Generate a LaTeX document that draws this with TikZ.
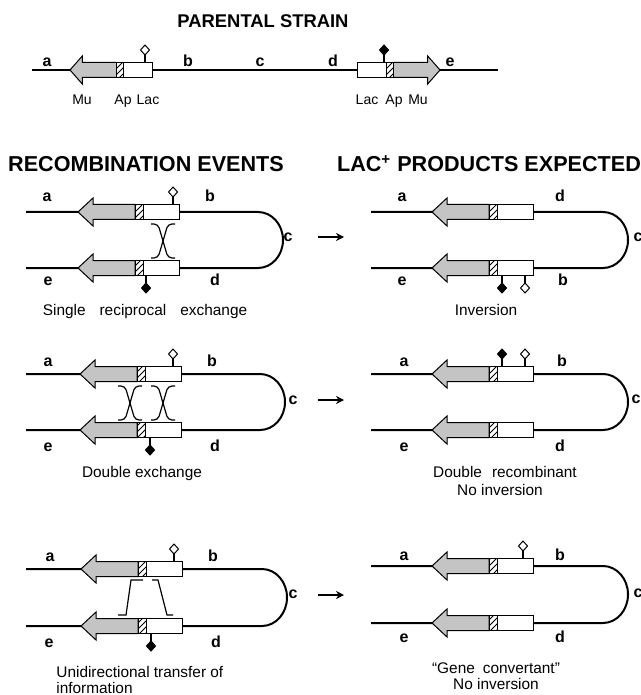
\documentclass[tikz,border=0pt]{standalone}
\usepackage{fontspec}
\setmainfont{Liberation Sans}
\usetikzlibrary{patterns,arrows.meta}
\definecolor{MuGrey}{HTML}{C4C4C4}

% Mu-Ap-Lac cassette, tip at (#1,#2), pointing left (xscale #3 < 0 points right)
\newcommand{\mucassette}[3]{%
  \begin{scope}[shift={(#1,#2)},xscale=#3]
    \filldraw[fill=MuGrey,line width=0.5pt] (0,0) -- (15,-14) -- (15,-7.5) -- (57,-7.5)
      -- (57,7.5) -- (15,7.5) -- (15,14) -- cycle;
    \filldraw[fill=white,line width=0.5pt] (57,-7.5) rectangle (65,7.5);
    \fill[pattern=north east lines] (57,-7.5) rectangle (65,7.5);
    \draw[line width=0.5pt] (57,-7.5) rectangle (65,7.5);
    \filldraw[fill=white,line width=0.5pt] (65,-7.5) rectangle (101,7.5);
  \end{scope}}
% Lac marker above / below a box edge
\newcommand{\pinup}[3]{%
  \draw[line width=0.7pt] (#1,#2) -- (#1,#2-7.5);
  \filldraw[fill=#3,line width=0.5pt] (#1,#2-7.5) -- (#1+4.5,#2-12.5) -- (#1,#2-17.5)
    -- (#1-4.5,#2-12.5) -- cycle;}
\newcommand{\pindown}[3]{%
  \draw[line width=0.7pt] (#1,#2) -- (#1,#2+7.5);
  \filldraw[fill=#3,line width=0.5pt] (#1,#2+7.5) -- (#1+4.5,#2+12.5) -- (#1,#2+17.5)
    -- (#1-4.5,#2+12.5) -- cycle;}
% crossing strands between the two copies
\newcommand{\crossover}[4]{%
  \draw[line width=0.6pt,rounded corners=2pt] (#1,#3) -- (#1+7,#3) -- (#2-7,#4) -- (#2,#4);
  \draw[line width=0.6pt,rounded corners=2pt] (#2,#3) -- (#2-7,#3) -- (#1+7,#4) -- (#1,#4);}

\begin{document}
\begin{tikzpicture}[x=0.5pt,y=-0.5pt,
  dna/.style={line width=1pt},
  lab/.style={font=\bfseries\fontsize{8}{9}\selectfont,anchor=base,inner sep=0pt},
  gene/.style={font=\fontsize{7}{9}\selectfont,anchor=base,inner sep=0pt},
  capt/.style={font=\fontsize{7.7}{9}\selectfont,anchor=base,inner sep=0pt},
  head/.style={font=\bfseries\fontsize{10.8}{13}\selectfont,anchor=base,inner sep=0pt},
  prodarrow/.style={line width=1.2pt,-{Stealth[length=4pt,width=4pt]}}]
\path[use as bounding box] (0,0) rectangle (641,695);

% parental strain
\node[head,font=\bfseries\fontsize{9.2}{11}\selectfont] (par-title) at (263,28) {PARENTAL STRAIN};
\draw[dna] (32,70) -- (498,70);
\mucassette{70}{70}{0.82}
\mucassette{440}{70}{-0.82}
\pinup{145}{62.5}{white}
\pinup{384}{62.5}{black}
\node[lab] (par-a) at (47,67) {a};
\node[lab] (par-b) at (188,67) {b};
\node[lab] (par-c) at (260,67) {c};
\node[lab] (par-d) at (333,67) {d};
\node[lab] (par-e) at (450,67) {e};
\node[gene] (par-mu1) at (82,105) {Mu};
\node[gene] (par-ap1) at (123,105) {Ap};
\node[gene] (par-lac1) at (148,105) {Lac};
\node[gene] (par-lac2) at (367,105) {Lac};
\node[gene] (par-ap2) at (394,105) {Ap};
\node[gene] (par-mu2) at (418,105) {Mu};

\node[head] (ev-title) at (146,172) {RECOMBINATION EVENTS};
\node[head] (pr-title) at (489,172) {LAC\textsuperscript{+} PRODUCTS EXPECTED};

% single reciprocal exchange
\draw[dna] (26,212) -- (258,212) arc[start angle=-90,end angle=90,x radius=25,y radius=28] -- (26,268);
\mucassette{78}{212}{1}
\mucassette{78}{268}{1}
\pinup{173}{204.5}{white}
\pindown{146}{275.5}{black}
\crossover{151}{175}{224}{258}
\node[lab] (ev1-a) at (47,202) {a};
\node[lab] (ev1-b) at (210,202) {b};
\node[lab] (ev1-c) at (288,242) {c};
\node[lab] (ev1-e) at (48,285) {e};
\node[lab] (ev1-d) at (215,285) {d};
\node[capt] (ev1-cap) at (145,315) {Single\hspace{7pt}reciprocal\hspace{7pt}exchange};

\draw[dna] (371,212) -- (603,212) arc[start angle=-90,end angle=90,x radius=25,y radius=28] -- (371,268);
\mucassette{432}{212}{1}
\mucassette{432}{268}{1}
\pindown{502}{275.5}{black}
\pindown{525}{275.5}{white}
\node[lab] (pr1-a) at (402,202) {a};
\node[lab] (pr1-d) at (560,202) {d};
\node[lab] (pr1-c) at (638,242) {c};
\node[lab] (pr1-e) at (402,285) {e};
\node[lab] (pr1-b) at (563,285) {b};
\node[capt] (pr1-cap) at (486,315) {Inversion};
\coordinate (ev1-out) at (318,237);
\coordinate (pr1-in) at (344,237);
\draw[prodarrow] (ev1-out) -- (pr1-in);

% double exchange
\draw[dna] (26,374) -- (260,374) arc[start angle=-90,end angle=90,x radius=25,y radius=28] -- (26,430);
\mucassette{80}{374}{1}
\mucassette{80}{430}{1}
\pinup{173}{366.5}{white}
\pindown{150}{437.5}{black}
\crossover{118}{142}{386}{420}
\crossover{151}{175}{386}{420}
\node[lab] (ev2-a) at (48,366) {a};
\node[lab] (ev2-b) at (212,366) {b};
\node[lab] (ev2-c) at (293,404) {c};
\node[lab] (ev2-e) at (48,451) {e};
\node[lab] (ev2-d) at (215,451) {d};
\node[capt] (ev2-cap) at (142,477) {Double exchange};

\draw[dna] (371,374) -- (603,374) arc[start angle=-90,end angle=90,x radius=25,y radius=28] -- (371,430);
\mucassette{432}{374}{1}
\mucassette{432}{430}{1}
\pinup{502}{366.5}{black}
\pinup{525}{366.5}{white}
\node[lab] (pr2-a) at (404,366) {a};
\node[lab] (pr2-b) at (562,366) {b};
\node[lab] (pr2-c) at (636,403) {c};
\node[lab] (pr2-e) at (404,451) {e};
\node[lab] (pr2-d) at (560,451) {d};
\node[capt] (pr2-cap) at (505,477) {Double\hspace{5pt}recombinant};
\node[capt] (pr2-cap2) at (500,495) {No inversion};
\coordinate (ev2-out) at (318,400);
\coordinate (pr2-in) at (344,400);
\draw[prodarrow] (ev2-out) -- (pr2-in);

% unidirectional transfer
\draw[dna] (26,569) -- (262,569) arc[start angle=-90,end angle=90,x radius=25,y radius=28.5] -- (26,626);
\mucassette{81}{569}{1}
\mucassette{81}{626}{1}
\pinup{174}{561.5}{white}
\pindown{151}{633.5}{black}
\draw[line width=0.6pt] (118,615) -- (126,615) -- (131,580) -- (143,580);
\draw[line width=0.6pt] (152,580) -- (158,580) -- (167,615) -- (173,615);
\node[lab] (ev3-a) at (50,561) {a};
\node[lab] (ev3-b) at (213,561) {b};
\node[lab] (ev3-c) at (293,598) {c};
\node[lab] (ev3-e) at (49,647) {e};
\node[lab] (ev3-d) at (216,647) {d};
\node[capt,anchor=base west] (ev3-cap) at (56,677) {Unidirectional transfer of};
\node[capt,anchor=base west] (ev3-cap2) at (56,693) {information};

\draw[dna] (371,566) -- (603,566) arc[start angle=-90,end angle=90,x radius=25,y radius=28.5] -- (371,623);
\mucassette{432}{566}{1}
\mucassette{432}{623}{1}
\pinup{523}{558.5}{white}
\node[lab] (pr3-a) at (404,560) {a};
\node[lab] (pr3-b) at (560,560) {b};
\node[lab] (pr3-c) at (638,597) {c};
\node[lab] (pr3-e) at (404,642) {e};
\node[lab] (pr3-d) at (560,642) {d};
\node[capt] (pr3-cap) at (496,673) {“Gene\hspace{4pt}convertant”};
\node[capt] (pr3-cap2) at (496,689) {No inversion};
\coordinate (ev3-out) at (318,595);
\coordinate (pr3-in) at (344,595);
\draw[prodarrow] (ev3-out) -- (pr3-in);
\end{tikzpicture}
\end{document}
